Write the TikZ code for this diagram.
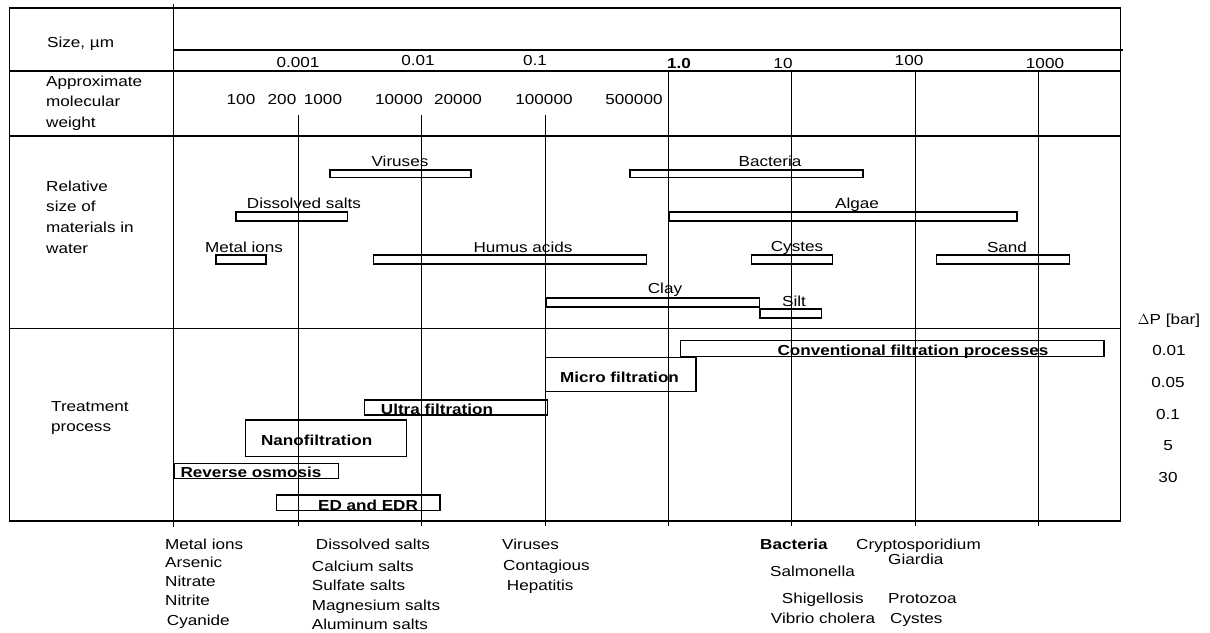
\documentclass[tikz,border=0pt]{standalone}
\usepackage{fontspec}
\setmainfont{Liberation Sans}[FakeStretch=1.18]
\begin{document}
\begin{tikzpicture}[x=1pt,y=-1pt]
\tikzset{
 frame/.style={line width=1.4pt, line cap=rect},
 gridline/.style={line width=1.2pt},
 bar/.style={line width=1.2pt},
 txt/.style={font=\fontsize{14.5}{17}\selectfont, inner sep=0pt},
 btxt/.style={font=\fontsize{14.5}{17}\selectfont\bfseries, inner sep=0pt},
}
\useasboundingbox (0,0) rectangle (1210,632);
% grid lines
\foreach \x/\ys in {298.5/115, 421.8/115, 545.2/115, 668.4/71, 791.7/71, 915.1/71, 1038.4/71}
  \draw[gridline] (\x,\ys) -- (\x,526);
% frame
\draw[frame] (9.6,8) rectangle (1120.6,521);
\draw[frame] (173.4,5) -- (173.4,526);
\draw[frame] (173.4,50) -- (1122.5,50);
\draw[frame] (9.6,71) -- (1120.6,71);
\draw[frame] (9.6,136) -- (1120.6,136);
\draw[frame] (9.6,328.5) -- (1120.6,328.5);
% row labels
\node[txt, anchor=base west] (lsize) at (47,47) {Size, µm};
\node[txt, anchor=base west] (lmw1) at (46,86) {Approximate};
\node[txt, anchor=base west] (lmw2) at (46,106.5) {molecular};
\node[txt, anchor=base west] (lmw3) at (46,127) {weight};
\node[txt, anchor=base west] (lrel1) at (46,191) {Relative};
\node[txt, anchor=base west] (lrel2) at (46,211.7) {size of};
\node[txt, anchor=base west] (lrel3) at (46,232.3) {materials in};
\node[txt, anchor=base west] (lrel4) at (46,253) {water};
\node[txt, anchor=base west] (ltr1) at (51,411) {Treatment};
\node[txt, anchor=base west] (ltr2) at (51,431) {process};
% size scale
\node[txt, anchor=base] (s1) at (298,67.7) {0.001};
\node[txt, anchor=base] (s2) at (418,65) {0.01};
\node[txt, anchor=base] (s3) at (535,65) {0.1};
\node[btxt, anchor=base] (s4) at (679,68) {1.0};
\node[txt, anchor=base] (s5) at (783,68) {10};
\node[txt, anchor=base] (s6) at (909,65) {100};
\node[txt, anchor=base] (s7) at (1045,68) {1000};
% molecular weights
\node[txt, anchor=base] (m1) at (241,104) {100};
\node[txt, anchor=base] (m2) at (282,104) {200};
\node[txt, anchor=base] (m3) at (323,104) {1000};
\node[txt, anchor=base] (m4) at (399,104) {10000};
\node[txt, anchor=base] (m5) at (458,104) {20000};
\node[txt, anchor=base] (m6) at (544,104) {100000};
\node[txt, anchor=base] (m7) at (634,104) {500000};
% relative size bars
\draw[bar] (330,170) rectangle (471,177.5);
\node[txt, anchor=base] (bvir) at (400,166) {Viruses};
\draw[bar] (630,170) rectangle (863,177.5);
\node[txt, anchor=base] (bbac) at (770,166) {Bacteria};
\draw[bar] (236,212) rectangle (347.5,221);
\node[txt, anchor=base] (bdis) at (304,208.5) {Dissolved salts};
\draw[bar] (669,212) rectangle (1017,221);
\node[txt, anchor=base] (balg) at (857,208) {Algae};
\draw[bar] (216,255) rectangle (266,264);
\node[txt, anchor=base] (bmet) at (244,252) {Metal ions};
\draw[bar] (373.5,255) rectangle (646.7,264);
\node[txt, anchor=base] (bhum) at (523,252) {Humus acids};
\draw[bar] (751.8,255) rectangle (832.3,264);
\node[txt, anchor=base] (bcys) at (797,251) {Cystes};
\draw[bar] (936.6,255) rectangle (1069.6,264);
\node[txt, anchor=base] (bsan) at (1007,252) {Sand};
\draw[bar] (546.5,298) rectangle (759.5,307);
\node[txt, anchor=base] (bcla) at (665,293.5) {Clay};
\draw[bar] (760,309) rectangle (821.8,318);
\node[txt, anchor=base] (bsil) at (794,306) {Silt};
% treatment boxes
\draw[bar] (680.5,340.7) rectangle (1104,356.7);
\node[btxt, anchor=base] (tconv) at (913,355) {Conventional filtration processes};
\draw[bar] (545.3,357.3) rectangle (696,391.7);
\node[btxt, anchor=base] (tmic) at (619.5,382) {Micro filtration};
\draw[bar] (364.3,400) rectangle (547.3,415);
\node[btxt, anchor=base] (tult) at (437,414.5) {Ultra filtration};
\draw[bar] (245.3,420) rectangle (406.4,456.7);
\node[btxt, anchor=base] (tnan) at (316.7,445.5) {Nanofiltration};
\draw[bar] (174,463.3) rectangle (338.7,478.3);
\node[btxt, anchor=base] (trev) at (251,477.5) {Reverse osmosis};
\draw[bar] (276.3,495) rectangle (440,510.7);
\node[btxt, anchor=base] (ted) at (368,510.5) {ED and EDR};
% pressure column
\node[txt, anchor=base] (dp0) at (1169,324) {$\Delta$P [bar]};
\node[txt, anchor=base] (dp1) at (1169,355) {0.01};
\node[txt, anchor=base] (dp2) at (1168,387) {0.05};
\node[txt, anchor=base] (dp3) at (1168,419) {0.1};
\node[txt, anchor=base] (dp4) at (1168,450.5) {5};
\node[txt, anchor=base] (dp5) at (1168,482.5) {30};
% bottom lists
\node[txt, anchor=base west] (a1) at (165,549.5) {Metal ions};
\node[txt, anchor=base west] (a2) at (165,567.5) {Arsenic};
\node[txt, anchor=base west] (a3) at (165,586.5) {Nitrate};
\node[txt, anchor=base west] (a4) at (165,605) {Nitrite};
\node[txt, anchor=base west] (a5) at (166.7,625) {Cyanide};
\node[txt, anchor=base west] (b1) at (315.7,549) {Dissolved salts};
\node[txt, anchor=base west] (b2) at (311.7,571.7) {Calcium salts};
\node[txt, anchor=base west] (b3) at (311.7,590.5) {Sulfate salts};
\node[txt, anchor=base west] (b4) at (311.7,610) {Magnesium salts};
\node[txt, anchor=base west] (b5) at (311.7,629) {Aluminum salts};
\node[txt, anchor=base west] (c1) at (502,549) {Viruses};
\node[txt, anchor=base west] (c2) at (503,570) {Contagious};
\node[txt, anchor=base west] (c3) at (506.7,590) {Hepatitis};
\node[btxt, anchor=base west] (d1) at (760,549.3) {Bacteria};
\node[txt, anchor=base west] (d2) at (770,576.7) {Salmonella};
\node[txt, anchor=base west] (d3) at (781.7,603.3) {Shigellosis};
\node[txt, anchor=base west] (d4) at (770.7,623.3) {Vibrio cholera};
\node[txt, anchor=base west] (e1) at (856,549.3) {Cryptosporidium};
\node[txt, anchor=base west] (e2) at (888,564.3) {Giardia};
\node[txt, anchor=base west] (e3) at (888,603.3) {Protozoa};
\node[txt, anchor=base west] (e4) at (890,623.3) {Cystes};
\end{tikzpicture}
\end{document}
